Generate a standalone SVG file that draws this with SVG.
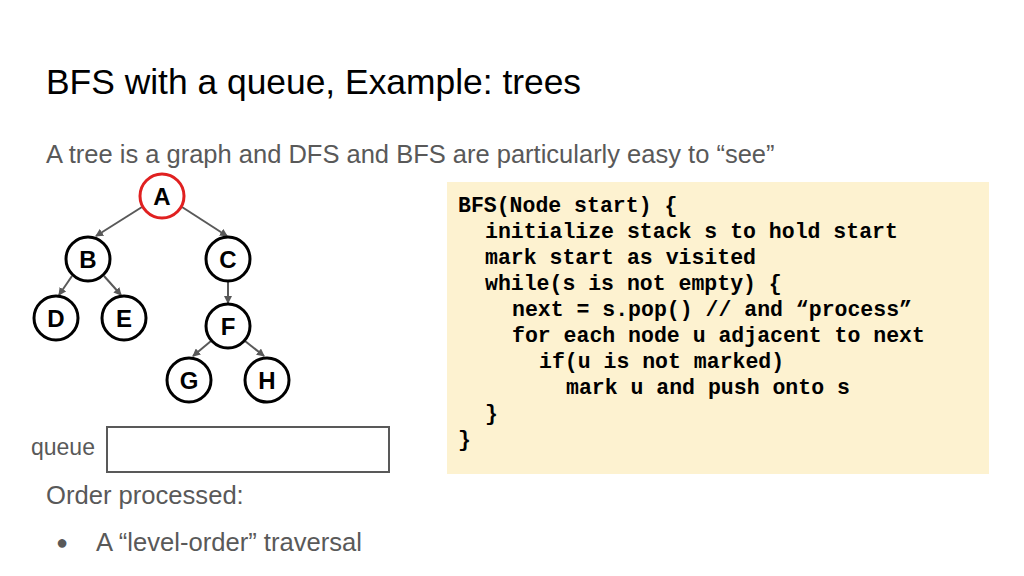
<svg xmlns="http://www.w3.org/2000/svg" width="1024" height="576" viewBox="0 0 1024 576">
<style>
.n circle{fill:#fff;stroke:#000;stroke-width:3}
.n text{font-family:"Liberation Sans",Arial,sans-serif;font-weight:bold;font-size:24px;text-anchor:middle}
.e line{stroke:#595959;stroke-width:2;marker-end:url(#ah)}
.code{font-family:"Liberation Mono","Courier New",monospace;font-weight:bold;font-size:21.5px;fill:#000}
.g{font-family:"Liberation Sans",Arial,sans-serif;fill:#595959}
</style>
<defs><marker id="ah" markerWidth="8" markerHeight="8" refX="7" refY="4" orient="auto" markerUnits="userSpaceOnUse"><path d="M0,0 L8,4 L0,8 z" fill="#595959"/></marker></defs>
<rect width="1024" height="576" fill="#fff"/>
<text x="46" y="94" font-family="Liberation Sans,Arial,sans-serif" font-size="35.4" fill="#000">BFS with a queue, Example: trees</text>
<text x="46" y="163" class="g" font-size="25.5">A tree is a graph and DFS and BFS are particularly easy to “see”</text>
<g id="connectors" class="e">
<line x1="142" y1="207" x2="96" y2="236"/>
<line x1="182" y1="207" x2="227" y2="236"/>
<line x1="72" y1="276" x2="59" y2="295"/>
<line x1="104" y1="276" x2="121" y2="295"/>
<line x1="228" y1="281" x2="228" y2="303"/>
<line x1="211" y1="341" x2="193" y2="356"/>
<line x1="245" y1="341" x2="264" y2="356"/>
</g>
<g id="A" class="n"><circle cx="162" cy="196" r="22" style="stroke:#e02020"/><text x="162" y="205">A</text></g>
<g id="B" class="n"><circle cx="88" cy="259" r="22"/><text x="88" y="268">B</text></g>
<g id="C" class="n"><circle cx="228" cy="259" r="22"/><text x="228" y="268">C</text></g>
<g id="D" class="n"><circle cx="56" cy="318" r="22"/><text x="56" y="327">D</text></g>
<g id="E" class="n"><circle cx="124" cy="318" r="22"/><text x="124" y="327">E</text></g>
<g id="F" class="n"><circle cx="228" cy="326" r="22"/><text x="228" y="335">F</text></g>
<g id="G" class="n"><circle cx="189" cy="380" r="22"/><text x="189" y="389">G</text></g>
<g id="H" class="n"><circle cx="267" cy="380" r="22"/><text x="267" y="389">H</text></g>
<text x="31" y="455" class="g" font-size="23">queue</text>
<rect x="107" y="427" width="282" height="45" fill="#fff" stroke="#595959" stroke-width="2"/>
<text x="46" y="504" class="g" font-size="25.6">Order processed:</text>
<text x="56" y="549" class="g" font-size="20">●</text>
<text x="96" y="551" class="g" font-size="25.6">A “level-order” traversal</text>
<rect x="447" y="182" width="542" height="292" fill="#fdf2d0"/>
<g class="code">
<text x="458" y="212">BFS(Node start) {</text>
<text x="485" y="238">initialize stack s to hold start</text>
<text x="485" y="264">mark start as visited</text>
<text x="485" y="290">while(s is not empty) {</text>
<text x="512" y="316">next = s.pop() // and “process”</text>
<text x="512" y="342">for each node u adjacent to next</text>
<text x="539" y="368">if(u is not marked)</text>
<text x="566" y="394">mark u and push onto s</text>
<text x="485" y="420">}</text>
<text x="458" y="446">}</text>
</g>
</svg>
